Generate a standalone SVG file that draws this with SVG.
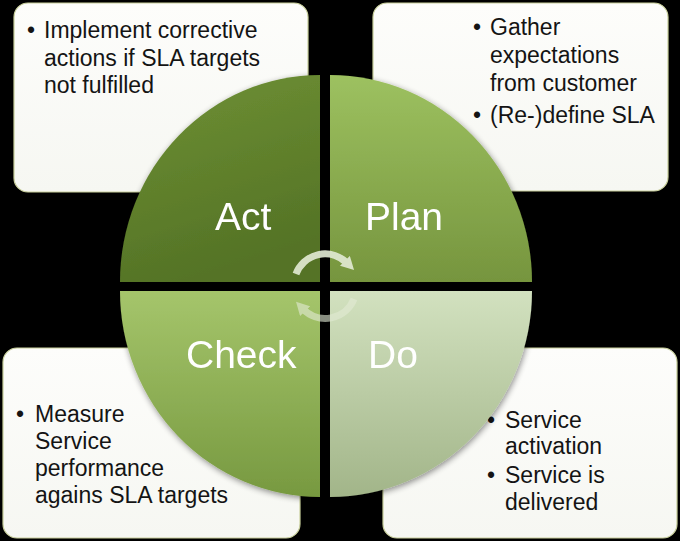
<svg xmlns="http://www.w3.org/2000/svg" width="680" height="541" viewBox="0 0 680 541">
  <defs>
    <style>
      .box { fill: url(#boxGrad); stroke: #c9d09c; stroke-width: 1.2; }
      .txt { font-family: "Liberation Sans", Arial, sans-serif; font-size: 23px; fill: #141414; }
      .lbl { font-family: "Liberation Sans", Arial, sans-serif; font-size: 39px; fill: #ffffff; }
      .cyc { fill: none; stroke: #e3ebd5; stroke-width: 7; stroke-linecap: butt; }
    </style>
    <linearGradient id="boxGrad" x1="0" y1="0" x2="0" y2="1">
      <stop offset="0" stop-color="#fdfdfb"/>
      <stop offset="1" stop-color="#f6f7f2"/>
    </linearGradient>
    <linearGradient id="gAct" x1="0" y1="0" x2="0.3" y2="1">
      <stop offset="0" stop-color="#6f9134"/>
      <stop offset="1" stop-color="#547326"/>
    </linearGradient>
    <linearGradient id="gPlan" x1="0" y1="0" x2="0" y2="1">
      <stop offset="0" stop-color="#9dc160"/>
      <stop offset="1" stop-color="#76953e"/>
    </linearGradient>
    <linearGradient id="gCheck" x1="0" y1="0" x2="0" y2="1">
      <stop offset="0" stop-color="#a5c56b"/>
      <stop offset="1" stop-color="#779940"/>
    </linearGradient>
    <linearGradient id="gDo" x1="0" y1="0" x2="0" y2="1">
      <stop offset="0" stop-color="#d2e1bf"/>
      <stop offset="1" stop-color="#a2b589"/>
    </linearGradient>
    <filter id="shadow" x="-10%" y="-10%" width="120%" height="120%">
      <feGaussianBlur in="SourceAlpha" stdDeviation="3"/>
      <feOffset dx="1" dy="2" result="b"/>
      <feComponentTransfer><feFuncA type="linear" slope="0.45"/></feComponentTransfer>
      <feMerge><feMergeNode/><feMergeNode in="SourceGraphic"/></feMerge>
    </filter>
    <marker id="arrowHead" markerUnits="userSpaceOnUse" markerWidth="14" markerHeight="14" viewBox="0 0 14 14" refX="3" refY="7" orient="auto">
      <path d="M0,0 L13,7 L0,14 Z" fill="#e3ebd5"/>
    </marker>
  </defs>

  <rect x="0" y="0" width="680" height="541" fill="#000000"/>

  <!-- corner text boxes -->
  <g id="box-act">
    <rect class="box" x="14" y="3" width="294" height="189" rx="14"/>
    <text class="txt"><tspan x="27" y="38">•</tspan><tspan x="44" y="38">Implement corrective</tspan><tspan x="44" y="66">actions if SLA targets</tspan><tspan x="44" y="93">not fulfilled</tspan></text>
  </g>
  <g id="box-plan">
    <rect class="box" x="373" y="3" width="295" height="188" rx="14"/>
    <text class="txt"><tspan x="473" y="35">•</tspan><tspan x="490" y="35">Gather</tspan><tspan x="490" y="63">expectations</tspan><tspan x="490" y="91">from customer</tspan><tspan x="473" y="123">•</tspan><tspan x="490" y="123">(Re-)define SLA</tspan></text>
  </g>
  <g id="box-check">
    <rect class="box" x="3" y="348" width="297" height="190" rx="14"/>
    <text class="txt"><tspan x="16" y="422">•</tspan><tspan x="35" y="422">Measure</tspan><tspan x="35" y="449">Service</tspan><tspan x="35" y="476">performance</tspan><tspan x="35" y="503">agains SLA targets</tspan></text>
  </g>
  <g id="box-do">
    <rect class="box" x="383" y="348" width="294" height="190" rx="14"/>
    <text class="txt"><tspan x="487" y="428">•</tspan><tspan x="505" y="428">Service</tspan><tspan x="505" y="454">activation</tspan><tspan x="487" y="483">•</tspan><tspan x="505" y="483">Service is</tspan><tspan x="505" y="510">delivered</tspan></text>
  </g>

  <!-- circle quadrants -->
  <g id="act" filter="url(#shadow)">
    <path d="M320,282 L120,282 A200,207 0 0 1 320,75 Z" fill="url(#gAct)"/>
    <text class="lbl" x="215" y="230">Act</text>
  </g>
  <g id="plan" filter="url(#shadow)">
    <path d="M330,282 L330,75 A202,207 0 0 1 532,282 Z" fill="url(#gPlan)"/>
    <text class="lbl" x="365" y="230">Plan</text>
  </g>
  <g id="check" filter="url(#shadow)">
    <path d="M320,291 L320,497 A200,206 0 0 1 120,291 Z" fill="url(#gCheck)"/>
    <text class="lbl" x="186" y="368" fill="#f6f9ef">Check</text>
  </g>
  <g id="do" filter="url(#shadow)">
    <path d="M330,291 L532,291 A202,206 0 0 1 330,497 Z" fill="url(#gDo)"/>
    <text class="lbl" x="368" y="368" fill="#f7faf2">Do</text>
  </g>

  <!-- cycle arrows -->
  <g id="connectors">
    <path class="cyc" d="M296,274 A31,31 0 0 1 347,263" marker-end="url(#arrowHead)" opacity="0.9"/>
    <path class="cyc" d="M354,299 A31,31 0 0 1 303,309" marker-end="url(#arrowHead)" opacity="0.6"/>
  </g>
</svg>
